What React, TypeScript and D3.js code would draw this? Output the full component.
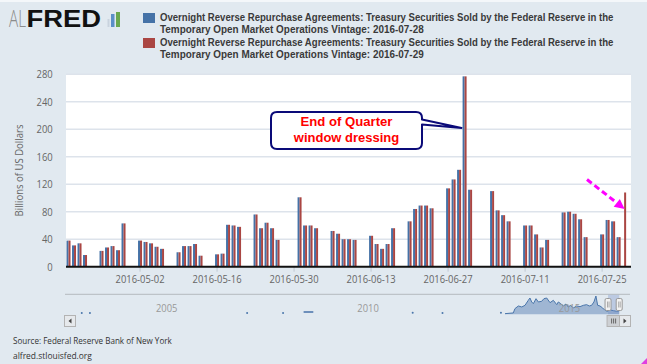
import React, { useEffect, useRef } from "react";
import * as d3 from "d3";

const W = 647;
const H = 364;

// business days on the chart (05-30 and 07-04 are holidays)
const dates = [
  "2016-04-19", "2016-04-20", "2016-04-21", "2016-04-22", "2016-04-25", "2016-04-26", "2016-04-27", "2016-04-28", "2016-04-29",
  "2016-05-02", "2016-05-03", "2016-05-04", "2016-05-05", "2016-05-06", "2016-05-09", "2016-05-10", "2016-05-11", "2016-05-12", "2016-05-13",
  "2016-05-16", "2016-05-17", "2016-05-18", "2016-05-19", "2016-05-20", "2016-05-23", "2016-05-24", "2016-05-25", "2016-05-26", "2016-05-27",
  "2016-05-31", "2016-06-01", "2016-06-02", "2016-06-03", "2016-06-06", "2016-06-07", "2016-06-08", "2016-06-09", "2016-06-10",
  "2016-06-13", "2016-06-14", "2016-06-15", "2016-06-16", "2016-06-17", "2016-06-20", "2016-06-21", "2016-06-22", "2016-06-23", "2016-06-24",
  "2016-06-27", "2016-06-28", "2016-06-29", "2016-06-30", "2016-07-01", "2016-07-05", "2016-07-06", "2016-07-07", "2016-07-08",
  "2016-07-11", "2016-07-12", "2016-07-13", "2016-07-14", "2016-07-15", "2016-07-18", "2016-07-19", "2016-07-20", "2016-07-21", "2016-07-22",
  "2016-07-25", "2016-07-26", "2016-07-27", "2016-07-28", "2016-07-29",
];

// vintage 2016-07-28 (blue), ends on 07-28
const vintage0728 = [
  38, 31, 34, 17, 23, 28, 30, 24, 63,
  38, 36, 34, 29, 26, 21, 30, 30, 33, 16,
  18, 19, 61, 60, 58, 76, 56, 64, 56, 39,
  101, 60, 60, 56, 52, 48, 40, 40, 39,
  45, 33, 26, 33, 56, 66, 84, 89, 89, 85,
  114, 127, 141, 277, 112, 110, 82, 75, 66,
  60, 60, 47, 28, 39, 79, 80, 77, 69, 43,
  47, 68, 66, 43,
];
// vintage 2016-07-29 (red), one more day
const vintage0729 = [...vintage0728, 108];

const yTicks = [0, 40, 80, 120, 160, 200, 240, 280];
const xTicks = ["2016-05-02", "2016-05-16", "2016-05-30", "2016-06-13", "2016-06-27", "2016-07-11", "2016-07-25"];

const legendItems = [
  ["Overnight Reverse Repurchase Agreements: Treasury Securities Sold by the Federal Reserve in the", "Temporary Open Market Operations Vintage: 2016-07-28"],
  ["Overnight Reverse Repurchase Agreements: Treasury Securities Sold by the Federal Reserve in the", "Temporary Open Market Operations Vintage: 2016-07-29"],
];

// navigator (full history, rough read)
const navYears = ["2005-01-01", "2010-01-01", "2015-01-01"];
const navDots = [
  ["2003-03-28", 34], ["2003-06-10", 34], ["2007-05-05", 34], ["2008-03-26", 34],
  ["2011-06-14", 40], ["2012-03-10", 34], ["2013-08-22", 40],
];
const navDash = [["2008-09-28", 60], ["2008-12-25", 60]];
const navSeries = [
  ["2013-09-28", 17], ["2013-12-12", 35], ["2013-12-27", 147], ["2014-01-27", 216], ["2014-02-27", 190],
  ["2014-03-28", 233], ["2014-04-27", 363], ["2014-05-12", 423], ["2014-05-28", 320], ["2014-06-12", 276],
  ["2014-07-06", 406], ["2014-07-27", 320], ["2014-08-26", 337], ["2014-09-16", 406], ["2014-10-11", 423],
  ["2014-11-10", 302], ["2014-12-10", 363], ["2015-01-10", 250], ["2015-01-24", 320], ["2015-02-15", 276],
  ["2015-03-10", 216], ["2015-04-04", 268], ["2015-04-25", 190], ["2015-05-16", 233], ["2015-06-09", 164],
  ["2015-07-10", 216], ["2015-08-09", 199], ["2015-09-08", 233], ["2015-10-08", 250], ["2015-11-01", 216],
  ["2015-11-22", 233], ["2015-12-13", 320], ["2015-12-31", 475], ["2016-01-16", 233], ["2016-02-06", 216],
  ["2016-03-01", 164], ["2016-03-22", 104], ["2016-04-12", 78], ["2016-05-06", 112], ["2016-06-06", 95],
  ["2016-07-06", 78], ["2016-07-29", 90],
];

const BLUE = "#4572A7";
const RED = "#AA4643";
const BG = "#E1E9F0";
const FONT = "'Open Sans', 'Liberation Sans', Arial, sans-serif";
const ARIAL = "'Liberation Sans', Arial, sans-serif";

// text squeezed horizontally to a measured width (the screenshot is narrower than the font)
const addText = (parent, { x, y, text, width, anchor = "start", rotate = 0, family = FONT, size = 11, weight = 400, fill = "#666" }) => {
  const t = parent.append("text")
    .attr("x", 0).attr("y", 0)
    .attr("text-anchor", anchor)
    .attr("font-family", family).attr("font-size", size).attr("font-weight", weight)
    .attr("fill", fill).text(text);
  const len = t.node().getComputedTextLength() || width;
  const sx = width / len;
  t.attr("transform", `translate(${x},${y})${rotate ? ` rotate(${rotate})` : ""} scale(${sx},1)`);
  return t;
};

const App = () => {
  const ref = useRef(null);

  useEffect(() => {
    const svg = d3.select(ref.current);
    svg.selectAll("*").remove();
    const parse = d3.utcParse("%Y-%m-%d");

    svg.append("rect").attr("width", W).attr("height", H).attr("fill", BG);
    svg.append("rect").attr("width", W).attr("height", 2).attr("fill", "#f4f7fa");

    // ---- logo
    addText(svg, { x: 9, y: 27, text: "AL", width: 17, size: 24, weight: 300, fill: "#8c8c8c" });
    addText(svg, { x: 26.5, y: 27, text: "FRED", width: 74.5, family: ARIAL, size: 24, weight: 700, fill: "#111" });
    svg.append("rect").attr("x", 107.5).attr("y", 19).attr("width", 2).attr("height", 8).attr("fill", "#c9d3de");
    svg.append("rect").attr("x", 111).attr("y", 14).attr("width", 3.5).attr("height", 13).attr("fill", "#5b8fc7");
    svg.append("rect").attr("x", 116).attr("y", 12).attr("width", 4).attr("height", 15).attr("fill", "#6aa84f");

    // ---- legend
    const legendColors = [BLUE, RED];
    const legendTop = [13, 38];
    legendItems.forEach((lines, i) => {
      svg.append("rect").attr("x", 143).attr("y", legendTop[i]).attr("width", 12).attr("height", 10)
        .attr("fill", legendColors[i]);
      lines.forEach((line, j) => {
        addText(svg, { x: 160, y: legendTop[i] + 8.4 + j * 11.6, text: line, width: j === 0 ? 454 : 264,
          family: ARIAL, size: 10, weight: 700, fill: "#3a3a3a" });
      });
    });

    // ---- main plot
    const left = 66, right = 631, top = 74.3, bottom = 266.7;
    const x = d3.scaleUtc()
      .domain([new Date(Date.UTC(2016, 3, 18, 13)), new Date(Date.UTC(2016, 6, 30, 6))])
      .range([left, right]);
    const y = d3.scaleLinear().domain([0, 280]).range([bottom, top]);
    const slot = d3.scaleBand().domain(["a", "b"]).range([-2, 2]);

    svg.append("rect").attr("x", left).attr("y", top).attr("width", right - left).attr("height", bottom - top)
      .attr("fill", "#fff");

    svg.append("g").selectAll("line").data(yTicks.slice(1)).join("line")
      .attr("x1", left).attr("x2", right).attr("y1", (d) => y(d)).attr("y2", (d) => y(d))
      .attr("stroke", "#dde3eb").attr("stroke-width", 1.5);

    const yLab = svg.append("g");
    yTicks.forEach((d) => {
      addText(yLab, { x: 52.7, y: y(d) + 3.8, text: String(d), width: String(d).length * 5.4, anchor: "end" });
    });

    addText(svg, { x: 22.5, y: (top + bottom) / 2, text: "Billions of US Dollars", width: 92, anchor: "middle", rotate: -90 });

    // x ticks
    svg.append("g").selectAll("line").data(xTicks).join("line")
      .attr("x1", (d) => x(parse(d))).attr("x2", (d) => x(parse(d)))
      .attr("y1", bottom).attr("y2", bottom + 5).attr("stroke", "#c0c8d2");
    const xLab = svg.append("g");
    xTicks.forEach((d) => {
      addText(xLab, { x: x(parse(d)), y: 283, text: d, width: 49, anchor: "middle" });
    });

    // bars
    const series = [
      { key: "a", color: BLUE, values: vintage0728 },
      { key: "b", color: RED, values: vintage0729 },
    ];
    series.forEach((s) => {
      svg.append("g").selectAll("rect").data(s.values).join("rect")
        .attr("x", (d, i) => x(parse(dates[i])) + slot(s.key))
        .attr("width", slot.bandwidth())
        .attr("y", (d) => y(d))
        .attr("height", (d) => y(0) - y(d))
        .attr("fill", s.color);
    });

    svg.append("line").attr("x1", left).attr("x2", right).attr("y1", y(0)).attr("y2", y(0))
      .attr("stroke", "#111").attr("stroke-width", 2);

    // ---- callout
    const tipX = x(parse("2016-06-30")) - 3;
    const tipY = y(202);
    const bx0 = 271, bx1 = 422, by0 = 112, by1 = 149, r = 6;
    const p = d3.path();
    p.moveTo(bx0 + r, by0);
    p.lineTo(bx1 - r, by0);
    p.quadraticCurveTo(bx1, by0, bx1, by0 + r);
    p.lineTo(bx1, 119.5);
    p.lineTo(tipX, tipY);
    p.lineTo(bx1, 124.5);
    p.lineTo(bx1, by1 - r);
    p.quadraticCurveTo(bx1, by1, bx1 - r, by1);
    p.lineTo(bx0 + r, by1);
    p.quadraticCurveTo(bx0, by1, bx0, by1 - r);
    p.lineTo(bx0, by0 + r);
    p.quadraticCurveTo(bx0, by0, bx0 + r, by0);
    p.closePath();
    svg.append("path").attr("d", p.toString()).attr("fill", "#fff").attr("stroke", "#0a0a78")
      .attr("stroke-width", 2).attr("stroke-linejoin", "round");
    ["End of Quarter", "window dressing"].forEach((t, i) => {
      addText(svg, { x: (bx0 + bx1) / 2, y: 126 + i * 15.5, text: t, width: i === 0 ? 92 : 105.5, anchor: "middle",
        family: ARIAL, size: 13.5, weight: 700, fill: "#ff0000" });
    });

    // ---- magenta arrow to the new point
    const ax1 = x(parse("2016-07-29")) + 0.5;
    const ay1 = y(84);
    const ax0 = 587, ay0 = 179.5;
    const ang = Math.atan2(ay1 - ay0, ax1 - ax0);
    const headLen = 10, headW = 5;
    const hx = ax1 - headLen * Math.cos(ang), hy = ay1 - headLen * Math.sin(ang);
    svg.append("line").attr("x1", ax0).attr("y1", ay0).attr("x2", hx).attr("y2", hy)
      .attr("stroke", "#ff00ff").attr("stroke-width", 3).attr("stroke-dasharray", "6,3.5");
    svg.append("polygon").attr("points", [
      [ax1, ay1],
      [hx + headW * Math.sin(ang), hy - headW * Math.cos(ang)],
      [hx - headW * Math.sin(ang), hy + headW * Math.cos(ang)],
    ].map((q) => q.join(",")).join(" ")).attr("fill", "#ff00ff");

    // ---- navigator
    const nx = d3.scaleUtc()
      .domain([new Date(Date.UTC(2002, 9, 27)), new Date(Date.UTC(2016, 10, 4))])
      .range([65, 630]);
    const ny = d3.scaleLinear().domain([0, 475]).range([314.3, 296]);

    svg.append("line").attr("x1", 65).attr("x2", 630).attr("y1", 294.3).attr("y2", 294.3)
      .attr("stroke", "#b5b9bf").attr("stroke-width", 1);

    const navData = navSeries.map(([d, v]) => [parse(d), v]);
    svg.append("path").datum(navData)
      .attr("d", d3.area().x((d) => nx(d[0])).y0(ny(0)).y1((d) => ny(d[1])))
      .attr("fill", "#9fb6d3");
    svg.append("path").datum(navData)
      .attr("d", d3.line().x((d) => nx(d[0])).y((d) => ny(d[1])))
      .attr("fill", "none").attr("stroke", "#4a76ab").attr("stroke-width", 1);
    svg.append("g").selectAll("circle").data(navDots).join("circle")
      .attr("cx", (d) => nx(parse(d[0]))).attr("cy", (d) => ny(d[1])).attr("r", 1)
      .attr("fill", "#4a76ab");
    svg.append("path").datum(navDash.map(([d, v]) => [parse(d), v]))
      .attr("d", d3.line().x((d) => nx(d[0])).y((d) => ny(d[1])))
      .attr("stroke", "#6d8fbb").attr("stroke-width", 2);

    const navLab = svg.append("g");
    navYears.forEach((d) => {
      addText(navLab, { x: nx(parse(d)) + 3, y: 311.5, text: d.slice(0, 4), width: 21.5, fill: "#999" });
    });

    // selected range
    const s0 = nx(parse(dates[0])), s1 = nx(parse(dates[dates.length - 1]));
    svg.append("rect").attr("x", s0).attr("y", 294.8).attr("width", s1 - s0).attr("height", 19.5)
      .attr("fill", "rgba(102,133,194,0.3)");
    [s0, s1].forEach((hxp) => {
      svg.append("rect").attr("x", hxp - 3).attr("y", 298.5).attr("width", 6).attr("height", 12).attr("rx", 1.5)
        .attr("fill", "#f2f2f2").attr("stroke", "#999");
      svg.append("line").attr("x1", hxp - 0.5).attr("x2", hxp - 0.5).attr("y1", 301.5).attr("y2", 307.5)
        .attr("stroke", "#aaa");
      svg.append("line").attr("x1", hxp + 1).attr("x2", hxp + 1).attr("y1", 301.5).attr("y2", 307.5)
        .attr("stroke", "#aaa");
    });

    // scrollbar
    const sb = svg.append("g");
    sb.append("rect").attr("x", 64.5).attr("y", 315.5).attr("width", 11).attr("height", 11)
      .attr("fill", "#e6e9ec").attr("stroke", "#b3b3b3");
    sb.append("polygon").attr("points", "68.5,321 71.5,318.5 71.5,323.5").attr("fill", "#444");
    sb.append("rect").attr("x", s0 - 1).attr("y", 315.5).attr("width", s1 - s0 + 1.5).attr("height", 11)
      .attr("fill", "#cdd0d4").attr("stroke", "#b3b3b3");
    [-2, 0, 2].forEach((o) => {
      sb.append("line").attr("x1", (s0 + s1) / 2 + o).attr("x2", (s0 + s1) / 2 + o)
        .attr("y1", 318.5).attr("y2", 323.5).attr("stroke", "#666");
    });
    sb.append("rect").attr("x", 619.5).attr("y", 315.5).attr("width", 11).attr("height", 11)
      .attr("fill", "#e6e9ec").attr("stroke", "#b3b3b3");
    sb.append("polygon").attr("points", "626.5,321 623.5,318.5 623.5,323.5").attr("fill", "#444");

    // ---- source
    addText(svg, { x: 13, y: 344, text: "Source: Federal Reserve Bank of New York", width: 159, size: 9, fill: "#333" });
    addText(svg, { x: 13, y: 359, text: "alfred.stlouisfed.org", width: 79, size: 9, fill: "#333" });

    svg.append("polygon").attr("points", `${W},${H - 6} ${W},${H} ${W - 6},${H}`).attr("fill", "#e040e0");
  }, []);

  return (
    <svg ref={ref} width={W} height={H} style={{ position: "fixed", left: 0, top: 0, display: "block" }} />
  );
};

export default App;
